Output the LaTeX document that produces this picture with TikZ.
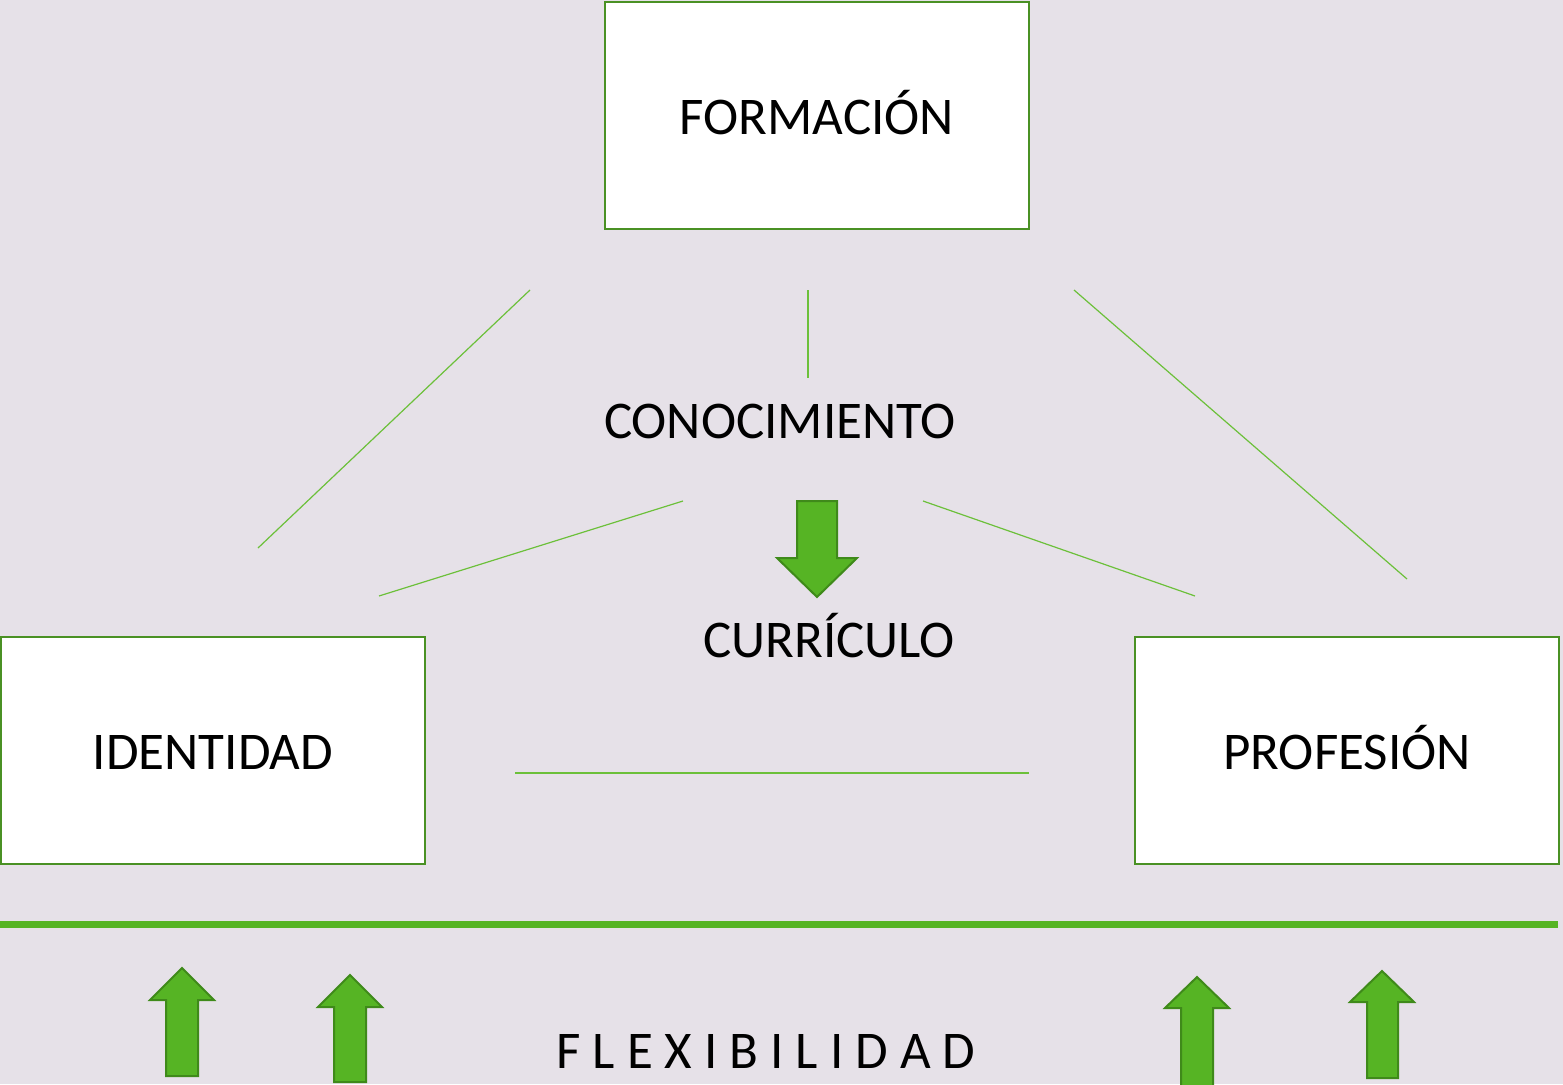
\documentclass[tikz,border=0pt]{standalone}
\usepackage{fontspec}
\setmainfont{Carlito}
\definecolor{bgc}{HTML}{E6E1E8}
\definecolor{boxline}{HTML}{4A9124}
\definecolor{arrfill}{HTML}{56B424}
\definecolor{arrline}{HTML}{3F8A1A}
\definecolor{thinline}{HTML}{6CC03A}
\begin{document}
\begin{tikzpicture}[x=1pt,y=-1pt,
  mainbox/.style={draw=boxline,line width=2.5pt,fill=white,minimum width=424pt,minimum height=227pt,inner sep=0pt,text height=38pt,text depth=0pt,font=\fontsize{53}{60}\selectfont},
  label/.style={inner sep=0pt,anchor=base,font=\fontsize{53}{60}\selectfont},
  thin/.style={draw=thinline,line width=1.2pt},
  thick/.style={draw=arrfill,line width=7pt},
  bigarrow/.style={fill=arrfill,draw=arrline,line width=2pt,line join=miter}]
\fill[bgc] (0,0) rectangle (1563,1084);
\useasboundingbox (0,0) rectangle (1563,1084);
% boxes
\node[mainbox] (form) at (817,115.5) {FORMACIÓN};
\node[mainbox] (iden) at (213,750.5) {IDENTIDAD};
\node[mainbox] (prof) at (1347,750.5) {PROFESIÓN};
% labels
\node[label] (cono) at (780,438) {CONOCIMIENTO};
\node[label] (curr) at (829,657) {CURRÍCULO};
\node[label] (flex) at (766,1068) {F L E X I B I L I D A D};
% thin lines
\coordinate (a1) at (530,290); \coordinate (a2) at (258,548);
\coordinate (b1) at (808,290); \coordinate (b2) at (808,378);
\coordinate (c1) at (1074,290); \coordinate (c2) at (1407,579);
\coordinate (d1) at (683,501); \coordinate (d2) at (379,596);
\coordinate (e1) at (923,501); \coordinate (e2) at (1195,596);
\coordinate (f1) at (515,773); \coordinate (f2) at (1029,773);
\draw[thin] (a1) -- (a2);
\draw[thin] (b1) -- (b2);
\draw[thin] (c1) -- (c2);
\draw[thin] (d1) -- (d2);
\draw[thin] (e1) -- (e2);
\draw[thin] (f1) -- (f2);
% thick base line
\coordinate (g1) at (0,924); \coordinate (g2) at (1558,924);
\draw[thick] (g1) -- (g2);
% down arrow
\draw[bigarrow] (797,501) -- (837,501) -- (837,558) -- (857,558) -- (817,597) -- (777,558) -- (797,558) -- cycle;
% up arrows
\draw[bigarrow] (166,1076) -- (166,1000) -- (150,1000) -- (182,968) -- (214,1000) -- (198,1000) -- (198,1076) -- cycle;
\draw[bigarrow] (334,1082) -- (334,1007) -- (318,1007) -- (350,975) -- (382,1007) -- (366,1007) -- (366,1082) -- cycle;
\draw[bigarrow] (1181,1090) -- (1181,1008) -- (1165,1008) -- (1197,977) -- (1229,1008) -- (1213,1008) -- (1213,1090) -- cycle;
\draw[bigarrow] (1367,1078) -- (1367,1002) -- (1350,1002) -- (1382,971) -- (1414,1002) -- (1398,1002) -- (1398,1078) -- cycle;
\end{tikzpicture}
\end{document}
